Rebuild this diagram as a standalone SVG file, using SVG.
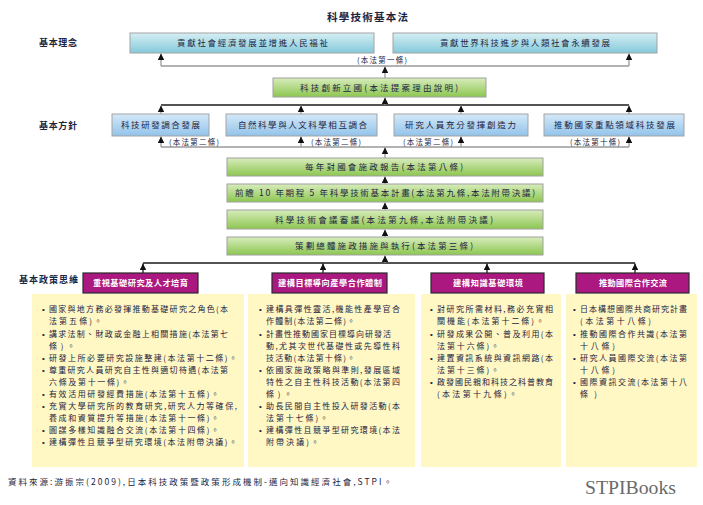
<svg xmlns="http://www.w3.org/2000/svg" width="703" height="505" viewBox="0 0 703 505">
<defs>
<linearGradient id="gTeal" x1="0" y1="0" x2="0" y2="1"><stop offset="0" stop-color="#d6eff4"/><stop offset="1" stop-color="#84c9da"/></linearGradient>
<linearGradient id="gBlue" x1="0" y1="0" x2="0" y2="1"><stop offset="0" stop-color="#d4e9f8"/><stop offset="1" stop-color="#92c3ea"/></linearGradient>
<linearGradient id="gGreen" x1="0" y1="0" x2="0" y2="1"><stop offset="0" stop-color="#d8ecbc"/><stop offset="1" stop-color="#8cc650"/></linearGradient>
<marker id="ah" viewBox="0 0 8 8" refX="8" refY="4" markerWidth="7" markerHeight="6.5" markerUnits="userSpaceOnUse" orient="auto"><path d="M0,0 L8,4 L0,8 z" fill="#111"/></marker>
<style>
text{font-family:"Noto Sans CJK TC","Noto Sans CJK SC",sans-serif;fill:#1c2440}
.title{font-size:10.5px;font-weight:bold}
.side{font-size:9px;font-weight:bold}
.bx{font-size:8.5px;text-anchor:middle}
.gx{font-size:8.5px;text-anchor:middle}
.lbl{font-size:7.5px}
.mg{font-size:8.2px;font-weight:bold;text-anchor:middle;fill:#fff}
.bl{font-size:8px}
.dot{font-family:"Liberation Sans",sans-serif;font-size:8px}
.src{font-size:8.5px}
.teal{fill:url(#gTeal);stroke:#a3a3a3;stroke-width:1}
.blue{fill:url(#gBlue);stroke:#a3a3a3;stroke-width:1}
.green{fill:url(#gGreen);stroke:#a0a0a0;stroke-width:1}
.mag{fill:#ab1880;stroke:#2a2a2a;stroke-width:1.2}
.yel{fill:#fff7c4}
.cg{stroke:#9a9a9a;stroke-width:1.3;fill:none}
.ck{stroke:#1a1a1a;stroke-width:1.3;fill:none}
</style>
</defs>
<rect width="703" height="505" fill="#fff"/>
<text class="title" x="367.5" y="21" text-anchor="middle" textLength="81" lengthAdjust="spacing">科學技術基本法</text>
<text class="side" x="39" y="46" textLength="38" lengthAdjust="spacing">基本理念</text>
<text class="side" x="39" y="129" textLength="38" lengthAdjust="spacing">基本方針</text>
<text class="side" x="19" y="283" textLength="59" lengthAdjust="spacing">基本政策思維</text>

<g id="connectors">
<path class="cg" d="M161,66 H629"/>
<path class="cg" d="M161,66 V53.5" marker-end="url(#ah)"/>
<path class="cg" d="M629,66 V53.5" marker-end="url(#ah)"/>
<path class="cg" d="M385,78 V66.5" marker-end="url(#ah)"/>
<path class="ck" d="M161,105 H629"/>
<path class="cg" d="M385,105 V97.5" marker-end="url(#ah)"/>
<path class="cg" d="M161,114 V105.5" marker-end="url(#ah)"/>
<path class="cg" d="M301,114 V105.5" marker-end="url(#ah)"/>
<path class="cg" d="M461,114 V105.5" marker-end="url(#ah)"/>
<path class="cg" d="M629,114 V105.5" marker-end="url(#ah)"/>
<path class="cg" d="M161,147 H629"/>
<path class="cg" d="M161,147 V136.5" marker-end="url(#ah)"/>
<path class="cg" d="M301,147 V136.5" marker-end="url(#ah)"/>
<path class="cg" d="M461,147 V136.5" marker-end="url(#ah)"/>
<path class="cg" d="M629,147 V136.5" marker-end="url(#ah)"/>
<path class="cg" d="M385,158 V147.5" marker-end="url(#ah)"/>
<path class="cg" d="M385,184 V176.5" marker-end="url(#ah)"/>
<path class="cg" d="M385,210 V202.5" marker-end="url(#ah)"/>
<path class="cg" d="M385,237 V229.5" marker-end="url(#ah)"/>
<path class="ck" d="M143,263 H635"/>
<path class="cg" d="M385,263 V255.5" marker-end="url(#ah)"/>
<path class="ck" d="M143,273 V263.5" marker-end="url(#ah)"/>
<path class="ck" d="M323,273 V263.5" marker-end="url(#ah)"/>
<path class="ck" d="M487,273 V263.5" marker-end="url(#ah)"/>
<path class="ck" d="M635,273 V263.5" marker-end="url(#ah)"/>
<text class="lbl" x="357" y="63" textLength="50" lengthAdjust="spacing">(本法第一條)</text>
<text class="lbl" x="169" y="145" textLength="50" lengthAdjust="spacing">(本法第二條)</text>
<text class="lbl" x="311" y="145" textLength="50" lengthAdjust="spacing">(本法第二條)</text>
<text class="lbl" x="403" y="145" textLength="50" lengthAdjust="spacing">(本法第二條)</text>
<text class="lbl" x="570" y="145" textLength="50" lengthAdjust="spacing">(本法第十條)</text>
</g>

<g id="n-idea1"><rect class="teal" x="130" y="33" width="244" height="20"/><text class="bx" x="252.5" y="46" textLength="151" lengthAdjust="spacing">貢獻社會經濟發展並增進人民福祉</text></g>
<g id="n-idea2"><rect class="teal" x="393" y="33" width="264" height="20"/><text class="bx" x="525" y="46" textLength="170" lengthAdjust="spacing">貢獻世界科技進步與人類社會永續發展</text></g>
<g id="n-innov"><rect class="green" x="273" y="78" width="213" height="19"/><text class="gx" x="379" y="91" textLength="158" lengthAdjust="spacing">科技創新立國(本法提案理由說明)</text></g>

<g id="n-p1"><rect class="blue" x="112" y="114" width="97" height="22"/><text class="bx" x="160.5" y="128" textLength="79" lengthAdjust="spacing">科技研發調合發展</text></g>
<g id="n-p2"><rect class="blue" x="226" y="114" width="151" height="22"/><text class="bx" x="302.5" y="128" textLength="129" lengthAdjust="spacing">自然科學與人文科學相互調合</text></g>
<g id="n-p3"><rect class="blue" x="394" y="114" width="134" height="22"/><text class="bx" x="460.5" y="128" textLength="111" lengthAdjust="spacing">研究人員充分發揮創造力</text></g>
<g id="n-p4"><rect class="blue" x="544" y="114" width="140" height="22"/><text class="bx" x="614.5" y="128" textLength="121" lengthAdjust="spacing">推動國家重點領域科技發展</text></g>

<g id="n-g1"><rect class="green" x="227" y="158" width="316" height="18"/><text class="gx" x="384" y="170" textLength="158" lengthAdjust="spacing">每年對國會施政報告(本法第八條)</text></g>
<g id="n-g2"><rect class="green" x="227" y="184" width="316" height="18"/><text class="gx" x="385" y="196" textLength="300" lengthAdjust="spacing">前瞻 10 年期程 5 年科學技術基本計畫(本法第九條,本法附帶決議)</text></g>
<g id="n-g3"><rect class="green" x="227" y="210" width="316" height="19"/><text class="gx" x="384" y="222.5" textLength="218" lengthAdjust="spacing">科學技術會議審議(本法第九條,本法附帶決議)</text></g>
<g id="n-g4"><rect class="green" x="227" y="237" width="316" height="18"/><text class="gx" x="384" y="249" textLength="178" lengthAdjust="spacing">策劃總體施政措施與執行(本法第三條)</text></g>

<g id="n-m1"><rect class="mag" x="83" y="273" width="115" height="20"/><text class="mg" x="140.5" y="286" textLength="95" lengthAdjust="spacing">重視基礎研究及人才培育</text></g>
<g id="n-m2"><rect class="mag" x="272" y="273" width="115" height="20"/><text class="mg" x="330" y="286" textLength="104" lengthAdjust="spacing">建構目標導向產學合作體制</text></g>
<g id="n-m3"><rect class="mag" x="431" y="273" width="113" height="20"/><text class="mg" x="488" y="286" textLength="70" lengthAdjust="spacing">建構知識基礎環境</text></g>
<g id="n-m4"><rect class="mag" x="576" y="273" width="113" height="20"/><text class="mg" x="633" y="286" textLength="68" lengthAdjust="spacing">推動國際合作交流</text></g>

<g id="n-y1">
<rect class="yel" x="32" y="294" width="212" height="173"/>
<text class="dot" x="42" y="312.3">•</text><text class="bl" x="49" y="312.3" textLength="179" lengthAdjust="spacing">國家與地方務必發揮推動基礎研究之角色(本</text>
<text class="bl" x="49" y="324.4" textLength="53" lengthAdjust="spacing">法第五條)。</text>
<text class="dot" x="42" y="336.5">•</text><text class="bl" x="49" y="336.5" textLength="179" lengthAdjust="spacing">講求法制、財政或金融上相關措施(本法第七</text>
<text class="bl" x="49" y="348.6" textLength="26" lengthAdjust="spacing">條)。</text>
<text class="dot" x="42" y="360.7">•</text><text class="bl" x="49" y="360.7" textLength="188" lengthAdjust="spacing">研發上所必要研究設施整建(本法第十二條)。</text>
<text class="dot" x="42" y="372.8">•</text><text class="bl" x="49" y="372.8" textLength="179" lengthAdjust="spacing">尊重研究人員研究自主性與適切待遇(本法第</text>
<text class="bl" x="49" y="384.9" textLength="80" lengthAdjust="spacing">六條及第十一條)。</text>
<text class="dot" x="42" y="397">•</text><text class="bl" x="49" y="397" textLength="170" lengthAdjust="spacing">有效活用研發經費措施(本法第十五條)。</text>
<text class="dot" x="42" y="409.1">•</text><text class="bl" x="49" y="409.1" textLength="188" lengthAdjust="spacing">充實大學研究所的教育研究,研究人力等確保,</text>
<text class="bl" x="49" y="421.2" textLength="170" lengthAdjust="spacing">養成和資質提升等措施(本法第十一條)。</text>
<text class="dot" x="42" y="433.3">•</text><text class="bl" x="49" y="433.3" textLength="170" lengthAdjust="spacing">圖謀多樣知識融合交流(本法第十四條)。</text>
<text class="dot" x="42" y="445.4">•</text><text class="bl" x="49" y="445.4" textLength="188" lengthAdjust="spacing">建構彈性且競爭型研究環境(本法附帶決議)。</text>
</g>
<g id="n-y2">
<rect class="yel" x="248" y="294" width="167" height="173"/>
<text class="dot" x="259" y="312.3">•</text><text class="bl" x="266" y="312.3" textLength="134" lengthAdjust="spacing">建構具彈性靈活,機能性產學官合</text>
<text class="bl" x="266" y="324.4" textLength="89" lengthAdjust="spacing">作體制(本法第二條)。</text>
<text class="dot" x="259" y="336.5">•</text><text class="bl" x="266" y="336.5" textLength="125" lengthAdjust="spacing">計畫性推動國家目標導向研發活</text>
<text class="bl" x="266" y="348.6" textLength="134" lengthAdjust="spacing">動,尤其次世代基礎性或先導性科</text>
<text class="bl" x="266" y="360.7" textLength="89" lengthAdjust="spacing">技活動(本法第十條)。</text>
<text class="dot" x="259" y="372.8">•</text><text class="bl" x="266" y="372.8" textLength="134" lengthAdjust="spacing">依國家施政策略與準則,發展區域</text>
<text class="bl" x="266" y="384.9" textLength="134" lengthAdjust="spacing">特性之自主性科技活動(本法第四</text>
<text class="bl" x="266" y="397" textLength="26" lengthAdjust="spacing">條)。</text>
<text class="dot" x="259" y="409.1">•</text><text class="bl" x="266" y="409.1" textLength="134" lengthAdjust="spacing">助長民間自主性投入研發活動(本</text>
<text class="bl" x="266" y="421.2" textLength="62" lengthAdjust="spacing">法第十七條)。</text>
<text class="dot" x="259" y="433.3">•</text><text class="bl" x="266" y="433.3" textLength="134" lengthAdjust="spacing">建構彈性且競爭型研究環境(本法</text>
<text class="bl" x="266" y="445.4" textLength="53" lengthAdjust="spacing">附帶決議)。</text>
</g>
<g id="n-y3">
<rect class="yel" x="421" y="294" width="140" height="173"/>
<text class="dot" x="430" y="312.3">•</text><text class="bl" x="437" y="312.3" textLength="116" lengthAdjust="spacing">對研究所需材料,務必充實相</text>
<text class="bl" x="437" y="324.4" textLength="107" lengthAdjust="spacing">關機能(本法第十二條)。</text>
<text class="dot" x="430" y="336.5">•</text><text class="bl" x="437" y="336.5" textLength="116" lengthAdjust="spacing">研發成果公開、普及利用(本</text>
<text class="bl" x="437" y="348.6" textLength="62" lengthAdjust="spacing">法第十六條)。</text>
<text class="dot" x="430" y="360.7">•</text><text class="bl" x="437" y="360.7" textLength="116" lengthAdjust="spacing">建置資訊系統與資訊網路(本</text>
<text class="bl" x="437" y="372.8" textLength="62" lengthAdjust="spacing">法第十三條)。</text>
<text class="dot" x="430" y="384.9">•</text><text class="bl" x="437" y="384.9" textLength="116" lengthAdjust="spacing">啟發國民親和科技之科普教育</text>
<text class="bl" x="437" y="397" textLength="80" lengthAdjust="spacing">(本法第十九條)。</text>
</g>
<g id="n-y4">
<rect class="yel" x="566" y="294" width="131" height="173"/>
<text class="dot" x="573" y="312.3">•</text><text class="bl" x="580" y="312.3" textLength="107" lengthAdjust="spacing">日本構想國際共商研究計畫</text>
<text class="bl" x="580" y="324.4" textLength="71" lengthAdjust="spacing">(本法第十八條)</text>
<text class="dot" x="573" y="336.5">•</text><text class="bl" x="580" y="336.5" textLength="107" lengthAdjust="spacing">推動國際合作共識(本法第</text>
<text class="bl" x="580" y="348.6" textLength="35" lengthAdjust="spacing">十八條)</text>
<text class="dot" x="573" y="360.7">•</text><text class="bl" x="580" y="360.7" textLength="107" lengthAdjust="spacing">研究人員國際交流(本法第</text>
<text class="bl" x="580" y="372.8" textLength="35" lengthAdjust="spacing">十八條)</text>
<text class="dot" x="573" y="384.9">•</text><text class="bl" x="580" y="384.9" textLength="107" lengthAdjust="spacing">國際資訊交流(本法第十八</text>
<text class="bl" x="580" y="397" textLength="17" lengthAdjust="spacing">條)</text>
</g>

<text class="src" x="8" y="485" textLength="384" lengthAdjust="spacing">資料來源:游振宗(2009),日本科技政策暨政策形成機制-邁向知識經濟社會,STPI。</text>
<text x="585" y="494" font-size="18" textLength="91" lengthAdjust="spacingAndGlyphs" style="font-family:'Liberation Serif',serif;fill:#6a6a6a">STPIBooks</text>
</svg>
